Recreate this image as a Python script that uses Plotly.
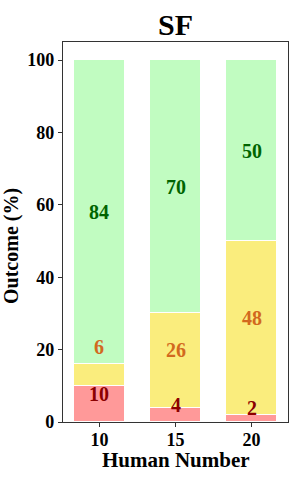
import plotly.graph_objects as go

categories = ["10", "15", "20"]
fail = [10, 4, 2]
partial = [6, 26, 48]
success = [84, 70, 50]

FONT = "Liberation Serif"
bar_colors = ["#ff9999", "#faed7d", "#c1fcc1"]
text_colors = ["#8b0000", "#d2691e", "#006400"]

W, H = 302, 486
ML, MR, MT, MB = 63, 14, 42, 64
PW, PH = W - ML - MR, H - MT - MB

fig = go.Figure()
series = [fail, partial, success]
x_idx = list(range(len(categories)))
for vals, col in zip(series, bar_colors):
    fig.add_trace(go.Bar(x=x_idx, y=vals, marker=dict(color=col, line=dict(color="white", width=1)),
                         width=0.68, showlegend=False, hoverinfo="skip"))

# value labels
bases = [0] * len(categories)
for si, vals in enumerate(series):
    for i, v in enumerate(vals):
        y = bases[i] + v / 2
        if si < 2:
            y += 2.8
        if si == 1 and v < 10:
            y = bases[i] + v + 4.8
        fig.add_annotation(x=i, y=y, text=f"<b>{v}</b>", showarrow=False,
                           font=dict(family=FONT, size=20, color=text_colors[si]))
        bases[i] += v

# axis titles as annotations
fig.add_annotation(xref="paper", yref="paper", x=0.5, y=-(460 - (H - MB)) / PH,
                   text="<b>Human Number</b>", showarrow=False, xanchor="center", yanchor="middle",
                   font=dict(family=FONT, size=21, color="black"))
fig.add_annotation(xref="paper", yref="paper", x=-(ML - 11) / PW, y=(H - MB - 246) / PH,
                   text="<b>Outcome (%)</b>", showarrow=False, textangle=-90, xanchor="center", yanchor="middle",
                   font=dict(family=FONT, size=20, color="black"))

fig.update_layout(
    barmode="stack",
    width=W, height=H,
    margin=dict(l=ML, r=MR, t=MT, b=MB, autoexpand=False),
    plot_bgcolor="white", paper_bgcolor="white",
    font=dict(family=FONT, color="black"),
    title=dict(text="<b>SF</b>", x=(ML + PW / 2) / W, xanchor="center", y=1 - 24 / H, yanchor="middle",
               font=dict(family=FONT, size=30, color="black")),
    bargap=0,
)
fig.update_xaxes(range=[-0.48, 2.48], tickvals=x_idx, ticktext=[f"<b>{c}</b>" for c in categories],
                 showline=True, linecolor="#333", linewidth=1.3, mirror=True, automargin=False,
                 ticks="outside", ticklen=4, tickcolor="#333", showgrid=False, ticklabelstandoff=-3,
                 tickfont=dict(family=FONT, size=18, color="black"))
fig.update_yaxes(range=[0, 105], tickvals=[0, 20, 40, 60, 80, 100], ticktext=["<b>%d</b>" % t for t in [0, 20, 40, 60, 80, 100]],
                 showline=True, linecolor="#333", linewidth=1.3, mirror=True, automargin=False,
                 ticks="outside", ticklen=4, tickcolor="#333", showgrid=False, zeroline=False,
                 tickfont=dict(family=FONT, size=18, color="black"))

fig.write_html("out.html", config={"displayModeBar": False},
               post_script="document.body.style.margin='0';")
